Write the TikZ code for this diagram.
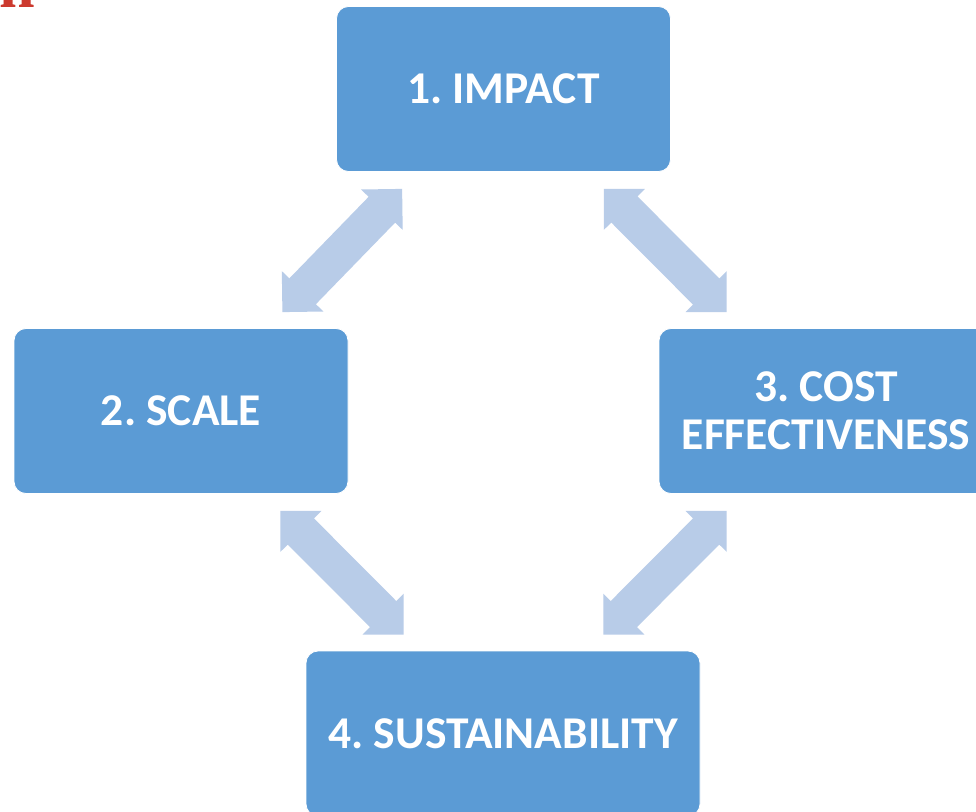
\documentclass[tikz,border=0pt]{standalone}
\usepackage{fontspec}
\setmainfont{Carlito}
\newfontfamily\headserif{Liberation Serif}
\usetikzlibrary{calc}
\frenchspacing

\definecolor{boxblue}{HTML}{5B9BD5}
\definecolor{arrowblue}{HTML}{B8CCE8}
\definecolor{headred}{HTML}{CC3A2E}

\tikzset{
  stagebox/.style={rectangle, rounded corners=12pt, fill=boxblue, draw=white,
    line width=0.8pt, text=white, align=center, inner sep=0pt,
    font=\fontsize{45.5}{48}\selectfont\bfseries,
    minimum width=334pt, minimum height=165pt},
  arrowfill/.style={fill=arrowblue}
}

% double-headed block arrow between two points (90 degree tips)
\newcommand\blockarrow[2]{%
  \fill[arrowfill] let \p1=(#1), \p2=(#2),
    \n1={atan2(\y2-\y1,\x2-\x1)}, \n2={veclen(\x2-\x1,\y2-\y1)} in
    [shift={(\p1)}, rotate=\n1]
    (0,0) -- (29,29) -- (29,18.5) -- (\n2-29,18.5) -- (\n2-29,29) -- (\n2,0)
    -- (\n2-29,-29) -- (\n2-29,-18.5) -- (29,-18.5) -- (29,-29) -- cycle;}

\begin{document}
\begin{tikzpicture}[x=1pt, y=-1pt]
  \useasboundingbox (0,0) rectangle (976,811);
  \fill[white] (0,0) rectangle (976,811);

  % heading letter cut by the top edge
  \node[anchor=base west, inner sep=0pt, text=headred,
        font=\headserif\fontsize{64}{64}\selectfont\bfseries] (head) at (-1,7) {n};

  % the four stages
  \node[stagebox] (impact) at (503.5,89) {1. IMPACT};
  \node[stagebox] (scale) at (181,411) {2. SCALE};
  \node[stagebox] (cost) at (826,411) {3. COST\\EFFECTIVENESS};
  \node[stagebox, minimum width=394pt] (sust) at (503,733.5) {4. SUSTAINABILITY};

  % arrow end points
  \coordinate (a1s) at ($(impact.south west)+(66,17)$);
  \coordinate (a1e) at ($(scale.north east)+(-66,-16)$);
  \coordinate (a2s) at ($(impact.south east)+(-67,17)$);
  \coordinate (a2e) at ($(cost.north west)+(68,-16)$);
  \coordinate (a3s) at ($(scale.south east)+(-68,17)$);
  \coordinate (a3e) at ($(sust.north west)+(98,-16)$);
  \coordinate (a4s) at ($(cost.south west)+(68,17)$);
  \coordinate (a4e) at ($(sust.north east)+(-97,-16)$);

  \blockarrow{a1s}{a1e}
  \blockarrow{a2s}{a2e}
  \blockarrow{a3s}{a3e}
  \blockarrow{a4s}{a4e}
\end{tikzpicture}
\end{document}
